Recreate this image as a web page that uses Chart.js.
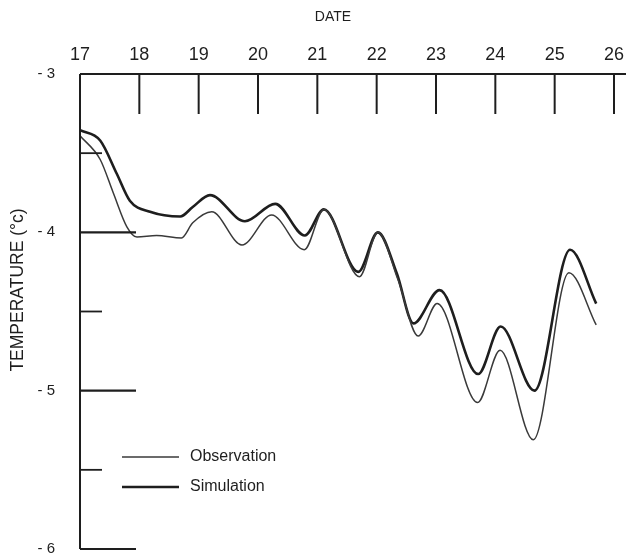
<!DOCTYPE html>
<html>
<head>
<meta charset="utf-8">
<title>Temperature: observation vs simulation</title>
<script src="https://cdn.jsdelivr.net/npm/chart.js@4.4.1/dist/chart.umd.min.js"></script>
<style>
  html, body { margin: 0; padding: 0; background: #fff; }
  #wrap { width: 626px; height: 560px; }
</style>
</head>
<body>
<div id="wrap"><canvas id="tempChart" width="626" height="560"></canvas></div>
<script>
// ── data ───────────────────────────────────────────────────────
const obsDays  = [17.00, 17.34, 17.56, 17.79, 17.96, 18.29, 18.71, 18.90, 19.22, 19.73, 20.23, 20.78,
                  21.11, 21.71, 22.02, 22.36, 22.70, 23.02, 23.70, 24.08, 24.64, 25.24, 25.70];
const obsTemps = [-3.39, -3.54, -3.75, -3.965, -4.03, -4.02, -4.035, -3.94, -3.87, -4.08, -3.89, -4.11,
                  -3.855, -4.28, -4.00, -4.30, -4.655, -4.45, -5.075, -4.745, -5.31, -4.255, -4.585];

const simDays  = [17.00, 17.34, 17.62, 17.84, 18.18, 18.69, 18.90, 19.19, 19.78, 20.29, 20.79,
                  21.11, 21.69, 22.02, 22.34, 22.62, 23.06, 23.71, 24.09, 24.66, 25.26, 25.70];
const simTemps = [-3.355, -3.42, -3.63, -3.80, -3.87, -3.90, -3.84, -3.765, -3.93, -3.82, -4.02,
                  -3.855, -4.25, -4.00, -4.26, -4.575, -4.365, -4.895, -4.595, -5.00, -4.11, -4.45];

const dateTicks = [18, 19, 20, 21, 22, 23, 24, 25, 26];          // marks hanging from the top axis
const tempTicks = [-3, -3.5, -4, -4.5, -5, -5.5, -6];            // marks on the left axis

const FONT = '"Liberation Sans", Arial, Helvetica, sans-serif';
const INK  = '#1e1e1e';

const toPoints = (xs, ys) => xs.map((x, i) => ({ x, y: ys[i] }));

// fixed axis boxes, no extra label padding
const fixBox = (w, h) => s => {
  if (w != null) s.width = w;
  if (h != null) s.height = h;
  s.paddingLeft = s.paddingRight = s.paddingTop = s.paddingBottom = 0;
};

// ── axes, inner ticks, titles and legend ───────────────────────
const framePlugin = {
  id: 'frame',
  afterDraw(chart) {
    const { ctx, scales: { x, y } } = chart;
    const top = y.getPixelForValue(-3);
    const bottom = y.getPixelForValue(-6);
    const left = x.getPixelForValue(17);

    ctx.save();
    ctx.strokeStyle = INK;
    ctx.lineCap = 'butt';

    // axis lines
    ctx.lineWidth = 2;
    ctx.beginPath();
    ctx.moveTo(left, top);
    ctx.lineTo(left, bottom);
    ctx.moveTo(left, top);
    ctx.lineTo(chart.width, top);
    ctx.stroke();

    // left ticks, long on whole degrees
    tempTicks.forEach(v => {
      const py = y.getPixelForValue(v);
      const len = Number.isInteger(v) ? 56 : 22;
      ctx.lineWidth = Number.isInteger(v) ? 2.2 : 1.8;
      ctx.beginPath();
      ctx.moveTo(left, py);
      ctx.lineTo(left + len, py);
      ctx.stroke();
    });

    // top ticks hanging down
    ctx.lineWidth = 2;
    dateTicks.forEach(d => {
      const px = x.getPixelForValue(d);
      ctx.beginPath();
      ctx.moveTo(px, top);
      ctx.lineTo(px, top + 40);
      ctx.stroke();
    });

    // titles
    ctx.fillStyle = INK;
    ctx.font = `14px ${FONT}`;
    ctx.textAlign = 'center';
    ctx.textBaseline = 'middle';
    ctx.fillText('DATE', 333, 17);

    ctx.save();
    ctx.translate(18, 290);
    ctx.rotate(-Math.PI / 2);
    ctx.font = `17.5px ${FONT}`;
    ctx.fillText('TEMPERATURE (°c)', 0, 0);
    ctx.restore();

    // legend
    const items = [
      { label: 'Observation', y: 457, width: 1.5, color: '#3a3a3a' },
      { label: 'Simulation',  y: 487, width: 2.6, color: INK },
    ];
    ctx.font = `16px ${FONT}`;
    ctx.textAlign = 'left';
    items.forEach(it => {
      ctx.strokeStyle = it.color;
      ctx.lineWidth = it.width;
      ctx.beginPath();
      ctx.moveTo(122, it.y);
      ctx.lineTo(179, it.y);
      ctx.stroke();
      ctx.fillText(it.label, 190, it.y);
    });
    ctx.restore();
  },
};

new Chart(document.getElementById('tempChart'), {
  type: 'line',
  data: {
    datasets: [
      {
        label: 'Observation',
        data: toPoints(obsDays, obsTemps),
        borderColor: '#3a3a3a',
        borderWidth: 1.5,
        pointRadius: 0,
        cubicInterpolationMode: 'monotone',
        fill: false,
        clip: false,
      },
      {
        label: 'Simulation',
        data: toPoints(simDays, simTemps),
        borderColor: INK,
        borderWidth: 2.6,
        pointRadius: 0,
        cubicInterpolationMode: 'monotone',
        fill: false,
        clip: false,
      },
    ],
  },
  options: {
    responsive: false,
    animation: false,
    layout: { padding: { top: 0, left: 0, right: 12, bottom: 11 } },
    plugins: {
      legend: { display: false },
      tooltip: { enabled: false },
    },
    scales: {
      x: {
        type: 'linear',
        position: 'top',
        min: 17, max: 26,
        ticks: {
          stepSize: 1,
          padding: 0,
          color: INK,
          font: { family: FONT, size: 18 },
        },
        grid: { display: false },
        border: { display: false },
        afterFit: fixBox(null, 74),
      },
      y: {
        type: 'linear',
        min: -6, max: -3,
        ticks: {
          stepSize: 1,
          padding: 17,
          color: INK,
          font: { family: FONT, size: 15 },
          callback: v => `- ${Math.abs(v)}`,
        },
        grid: { display: false },
        border: { display: false },
        afterFit: fixBox(80, null),
      },
    },
  },
  plugins: [framePlugin],
});
</script>
</body>
</html>
